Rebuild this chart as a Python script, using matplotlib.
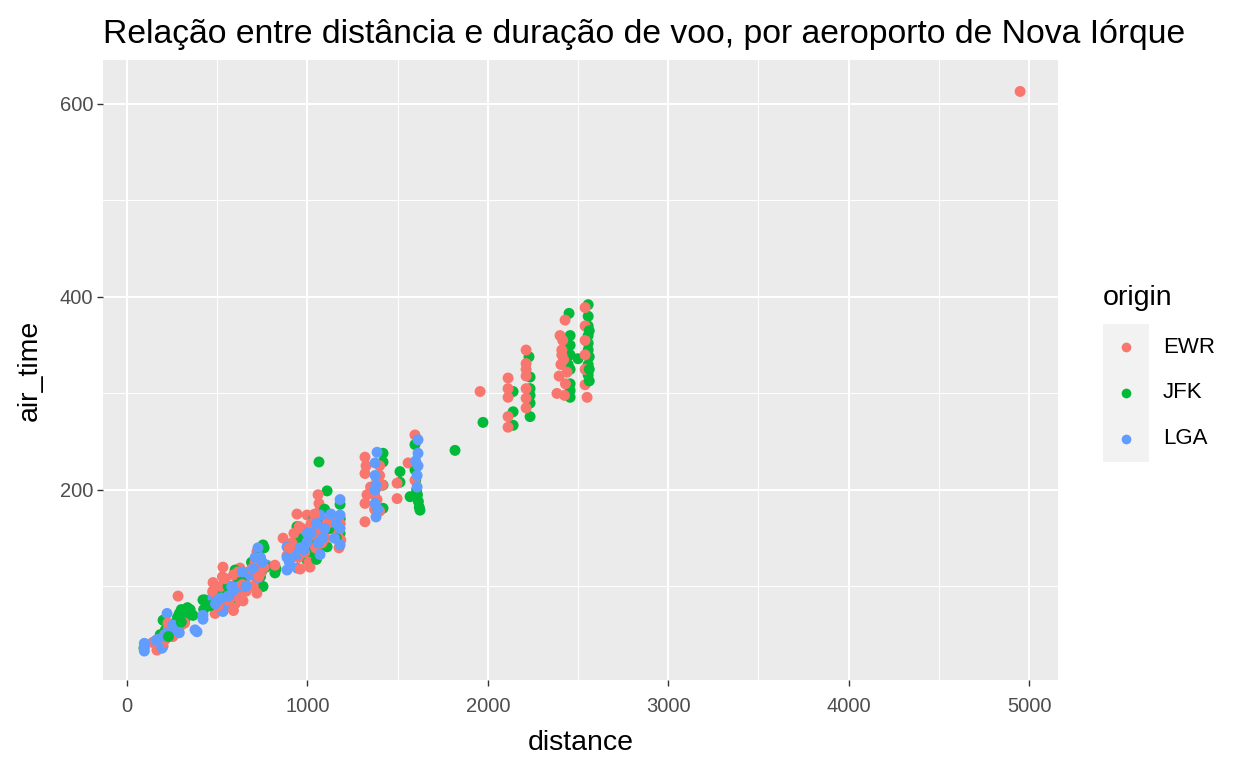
import matplotlib
matplotlib.use("Agg")
import numpy as np
import pandas as pd
import matplotlib.pyplot as plt
from matplotlib.lines import Line2D
from matplotlib.patches import Rectangle
from matplotlib.ticker import MultipleLocator

plt.rcParams['font.family'] = ['Liberation Sans', 'DejaVu Sans']

# dados (distance, air_time) por aeroporto de origem
ewr_distance = [143, 160, 166, 169, 184, 200, 200, 200, 209, 212, 213, 228, 229, 240, 254, 254,
                283, 288, 301, 319, 284, 227,
                477, 532, 626, 488, 488, 488, 554, 570, 580, 600, 610, 630, 643, 720, 720, 720,
                720, 500, 541, 529, 560, 650, 680, 700, 746, 740, 620, 590, 660, 590,
                520, 545, 600, 615, 640, 690, 710, 730, 760, 565, 505, 475,
                820, 865, 887, 914, 937, 942, 950, 954, 998, 997, 1005, 1008, 1014, 1017, 1045,
                1059, 1064, 1065, 1070, 1076, 1085, 1089, 1126, 1142, 1167, 1182, 1185, 960, 1030,
                1100, 900, 925, 970, 985, 1040, 1055, 1080, 1110, 1150, 1175, 1020, 990,
                1319, 1319, 1319, 1319, 1350, 1386, 1372, 1386, 1400, 1400, 1416, 1372, 1400, 1385,
                1325, 1330, 1497, 1497, 1558, 1596, 1596,
                1957, 2112, 2112, 2112, 2112, 2112, 2212, 2212, 2212, 2212, 2212, 2212, 2212,
                2428, 2383, 2395, 2405, 2410, 2415, 2420, 2430, 2439, 2400, 2410, 2425,
                2539, 2539, 2539, 2539, 2539, 2539, 2550,
                4950]
ewr_air_time = [42, 40, 34, 40, 36, 38, 42, 47, 50, 45, 48, 52, 56, 50, 55, 48,
                90, 60, 60, 62, 52, 62,
                104, 120, 119, 72, 78, 83, 95, 88, 100, 82, 105, 92, 85, 136, 120, 105,
                93, 90, 98, 110, 79, 98, 112, 100, 115, 128, 88, 75, 95, 112,
                100, 108, 95, 115, 102, 118, 125, 110, 120, 85, 80, 95,
                122, 150, 132, 145, 140, 175, 130, 162, 174, 145, 150, 125, 120, 155, 140,
                195, 186, 160, 179, 170, 165, 155, 160, 160, 155, 165, 148, 118, 165,
                150, 140, 155, 160, 135, 175, 150, 145, 165, 170, 140, 165, 158,
                234, 217, 186, 167, 203, 203, 195, 190, 215, 225, 205, 180, 178, 210,
                225, 195, 207, 191, 228, 257, 210,
                302, 316, 305, 296, 276, 265, 345, 331, 318, 305, 295, 285, 325,
                376, 300, 318, 330, 345, 355, 335, 310, 322, 360, 340, 298,
                389, 370, 355, 340, 325, 309, 296,
                613]

jfk_distance = [94, 187, 184, 200, 209, 213, 228, 264, 277, 280, 290, 301, 301, 320, 340, 335,
                366, 350, 301, 230,
                421, 432, 425, 543, 599, 665, 737, 754, 754, 665, 760, 620, 580, 700, 740, 509,
                488, 460, 520, 560, 640, 690, 720, 770,
                820, 826, 942, 944, 950, 998, 1003, 1028, 1064, 1069, 1076, 1086, 1089, 1109,
                1109, 1181, 1181, 1182, 1035, 1050, 970, 1010, 1040, 1060, 1120, 1150, 1095, 1160,
                1419, 1419, 1419, 1419, 1513, 1513, 1596, 1596, 1600, 1605, 1610, 1615, 1620,
                1624, 1569, 1818,
                1973, 2140, 2140, 2140, 2228, 2234, 2234, 2234, 2234, 2234,
                2450, 2456, 2456, 2456, 2456, 2456, 2456, 2456, 2500, 2445,
                2556, 2556, 2556, 2556, 2556, 2556, 2556, 2556, 2562, 2562, 2562, 2562]
jfk_air_time = [36, 42, 50, 65, 52, 55, 60, 62, 60, 68, 72, 70, 76, 65, 72, 78,
                70, 76, 63, 48,
                86, 86, 76, 96, 117, 114, 127, 143, 100, 100, 140, 105, 88, 118, 110, 90,
                82, 80, 92, 100, 110, 125, 130, 120,
                114, 118, 162, 140, 150, 127, 141, 135, 229, 155, 165, 143, 160, 199,
                141, 185, 155, 170, 170, 128, 150, 160, 150, 170, 160, 165, 180, 150,
                238, 229, 205, 181, 219, 208, 247, 221, 210, 200, 195, 188, 182,
                179, 193, 241,
                270, 302, 281, 267, 338, 317, 305, 290, 276, 298,
                383, 296, 310, 325, 340, 350, 360, 303, 336, 330,
                392, 380, 370, 360, 345, 330, 319, 352, 338, 325, 365, 313]

lga_distance = [96, 96, 96, 194, 184, 169, 213, 222, 229, 209, 160, 254, 264, 290, 377, 388,
                421, 421,
                477, 477, 532, 543, 543, 654, 726, 726, 776, 600, 620, 680, 700, 740, 500, 560,
                580, 490, 520, 590, 640, 660, 710, 750,
                887, 887, 887, 942, 942, 998, 1042, 1070, 1070, 1109, 1181, 1181, 1181, 1181,
                1020, 1096, 960, 1150, 900, 980, 1000, 1050, 1085, 1130, 1160, 1060,
                1386, 1375, 1375, 1375, 1375, 1380, 1380, 1390, 1608, 1608, 1613, 1613, 1613, 1600]
lga_air_time = [33, 37, 41, 36, 42, 45, 50, 72, 55, 48, 44, 60, 55, 52, 55, 53,
                70, 66,
                93, 88, 74, 83, 78, 105, 140, 109, 122, 95, 100, 112, 118, 130, 85, 90,
                100, 82, 88, 96, 115, 100, 130, 125,
                141, 130, 117, 133, 119, 146, 172, 174, 133, 167, 190, 174, 160, 143,
                155, 160, 140, 150, 125, 138, 155, 165, 150, 175, 165, 145,
                239, 228, 215, 200, 186, 172, 205, 180, 203, 215, 225, 238, 252, 230]

origins = ['EWR', 'JFK', 'LGA']
cores = {'EWR': '#F8766D', 'JFK': '#00BA38', 'LGA': '#619CFF'}


def monta_tabela():
    """ junta os três aeroportos numa tabela, intercalando a ordem de desenho """
    partes = []
    for nome, d, t in zip(origins,
                          [ewr_distance, jfk_distance, lga_distance],
                          [ewr_air_time, jfk_air_time, lga_air_time]):
        df = pd.DataFrame({'distance': d, 'air_time': t, 'origin': nome})
        df['ordem'] = np.arange(len(df)) / len(df)
        partes.append(df)
    tab = pd.concat(partes).sort_values(['ordem', 'origin'])
    return tab


tab = monta_tabela()

fig = plt.figure(figsize=(12.48, 7.68), dpi=100)
ax = fig.add_axes([103 / 1248, 1 - 680 / 768, 955 / 1248, 620 / 768])
ax.set_facecolor('#EBEBEB')

ax.scatter(tab['distance'], tab['air_time'], c=tab['origin'].map(cores),
           s=62, linewidths=0, zorder=3)

ax.set_xlim(-133, 5160)
ax.set_ylim(3, 645.6)

ax.xaxis.set_major_locator(MultipleLocator(1000))
ax.xaxis.set_minor_locator(MultipleLocator(500))
ax.yaxis.set_major_locator(MultipleLocator(200))
ax.yaxis.set_minor_locator(MultipleLocator(100))
ax.grid(which='major', color='white', linewidth=1.45, zorder=1)
ax.grid(which='minor', color='white', linewidth=0.7, zorder=1)
ax.set_axisbelow(True)
for s in ax.spines.values():
    s.set_visible(False)
ax.tick_params(which='major', length=4, width=1, color='#333333',
               labelcolor='#4D4D4D', labelsize=14.5)
ax.tick_params(axis='x', pad=8)
ax.tick_params(axis='y', pad=3)
ax.tick_params(which='minor', length=0)

ax.set_xlabel('distance', fontsize=20.5, color='black', labelpad=10)
ax.set_ylabel('air_time', fontsize=20.5, color='black', labelpad=12)
ax.set_title('Relação entre distância e duração de voo, por aeroporto de Nova Iórque',
             fontsize=24.3, loc='left', pad=12, color='black')

# legenda à moda do ggplot
fig.text(1103 / 1248, 1 - 298 / 768, 'origin', fontsize=20.5, va='center', ha='left')
fig.patches.append(Rectangle((1103 / 1248, 1 - 462 / 768), 46 / 1248, 138 / 768,
                             transform=fig.transFigure, facecolor='#F2F2F2',
                             edgecolor='none'))
for i, nome in enumerate(origins):
    yk = 1 - (347 + 46 * i) / 768
    fig.lines.append(Line2D([1126 / 1248], [yk], transform=fig.transFigure,
                            marker='o', markersize=7, color=cores[nome],
                            markeredgewidth=0, linestyle='none'))
    fig.text(1163 / 1248, yk, nome, fontsize=16, va='center', ha='left')

fig.savefig('out.png', dpi=100)
